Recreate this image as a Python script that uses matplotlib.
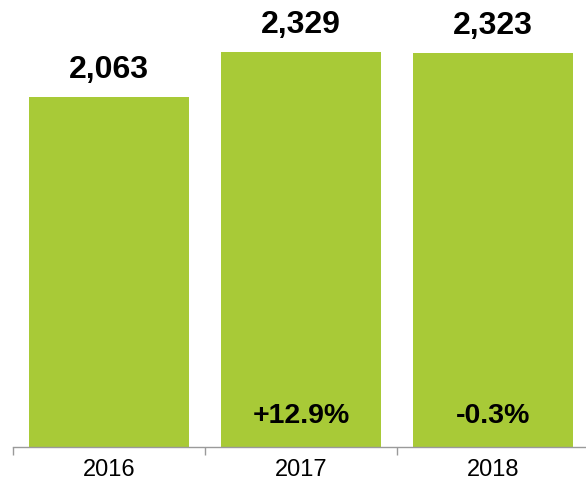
import matplotlib
matplotlib.use("Agg")
import matplotlib.pyplot as plt
import numpy as np

plt.rcParams['font.family'] = ['Liberation Sans', 'DejaVu Sans']

years = ["2016", "2017", "2018"]
values = [2063, 2329, 2323]
changes = ["", "+12.9%", "-0.3%"]

bar_color = "#A8CA37"
axis_color = "#9a9a9a"

W, H = 586, 483
fig = plt.figure(figsize=(W / 100, H / 100), dpi=100)
ax = fig.add_axes([13 / W, 36 / H, 576 / W, 447 / H])

x = np.arange(len(years))
ax.bar(x, values, width=0.83, color=bar_color, zorder=2)

for xi, v in zip(x, values):
    ax.annotate(f"{v:,}", (xi, v), xytext=(0, 13.7), textcoords="offset points",
                ha="center", va="baseline", fontsize=23, fontweight="bold", color="black")

for xi, c in zip(x, changes):
    if c:
        ax.annotate(c, (xi, 0), xytext=(0, 17.3), textcoords="offset points",
                    ha="center", va="baseline", fontsize=20.5, fontweight="bold", color="black")

ax.set_xlim(-0.5, len(years) - 0.5)
ax.set_ylim(0, 2634)

for side in ["top", "right", "left"]:
    ax.spines[side].set_visible(False)
ax.spines["bottom"].set_color(axis_color)
ax.spines["bottom"].set_linewidth(1.0)
ax.set_yticks([])

ax.set_xticks(x)
ax.set_xticklabels(years, fontsize=17)
ax.tick_params(axis="x", which="major", length=0, pad=9)
ax.set_xticks(np.arange(-0.5, len(years)), minor=True)
ax.tick_params(axis="x", which="minor", length=6, color=axis_color, width=1.0)

fig.savefig("out.png", dpi=100)
